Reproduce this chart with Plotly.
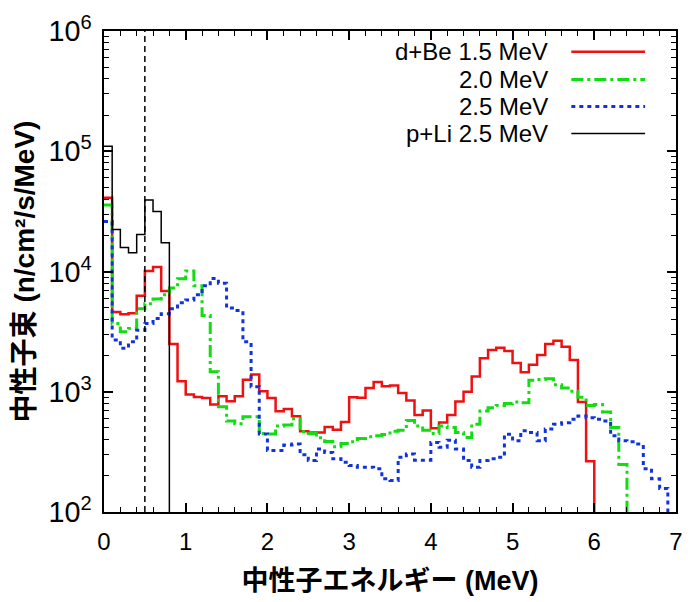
import plotly.graph_objects as go

# ---------------- data (bin width 0.1 MeV, starting at 0 MeV) ----------------
bin_width = 0.1

dbe_15 = [41000, 4600, 4400, 4500, 6300, 10100, 10900, 6900, 2500, 1220,
          948, 906, 889, 784, 918, 835, 918, 1260, 1390, 1010,
          889, 690, 720, 625, 470, 458, 458, 510, 482, 560,
          900, 890, 1074, 1205, 1110, 1125, 977, 846, 641, 700,
          498, 555, 640, 830, 1000, 1342, 1900, 2220, 2320, 2180,
          1730, 1450, 1680, 2020, 2500, 2650, 2370, 1840, 820, 264]

dbe_20 = [35800, 3690, 3150, 3350, 4900, 5400, 5900, 6400, 7300, 8700,
          10100, 7600, 4300, 1470, 750, 571, 543, 621, 621, 450,
          445, 520, 530, 595, 464, 450, 414, 385, 349, 372,
          384, 409, 422, 430, 440, 470, 479, 578, 520, 479,
          450, 520, 504, 458, 417, 537, 692, 736, 770, 800,
          820, 810, 1245, 1262, 1280, 1145, 1075, 1010, 900, 770,
          785, 678, 504, 248]

dbe_25 = [26000, 2700, 2300, 2600, 3250, 3700, 4060, 4450, 4900, 5500,
          5800, 6400, 7600, 8750, 8000, 4960, 4740, 2600, 1100, 445,
          324, 324, 360, 367, 300, 268, 334, 313, 277, 259,
          244, 236, 236, 229, 189, 183, 285, 304, 270, 270,
          379, 345, 396, 334, 268, 236, 268, 277, 285, 444,
          392, 473, 458, 392, 489, 537, 553, 590, 628, 608,
          590, 572, 430, 392, 384, 367, 229, 189, 157]

pli_25 = [110000, 22300, 15800, 14300, 20300, 39400, 31600, 17300]

marker_energy = 0.5          # dashed vertical reference line (MeV)
floor_value = 1.0            # below the axis range: closes each histogram
series_names = ["d+Be 1.5 MeV", "2.0 MeV", "2.5 MeV", "p+Li 2.5 MeV"]
series_values = [dbe_15, dbe_20, dbe_25, pli_25]
series_colors = ["#ee1111", "#11dd11", "#1133dd", "#000000"]
series_dash = ["solid", "12px,4px,3px,4px", "4px,4px", "solid"]
series_width = [2.5, 3, 3, 1.5]

x_ticks = [0, 1, 2, 3, 4, 5, 6, 7]
x_title = "中性子エネルギー (MeV)"
y_title = "中性子束 (n/cm²/s/MeV)"

LAT = "Liberation Sans, Arial, Noto Sans CJK JP, sans-serif"
TITLE_FONT = "Liberation Sans, Noto Sans CJK JP, sans-serif"


def step_xy(vals):
    n = len(vals)
    xs = [round(i * bin_width, 4) for i in range(n + 1)]
    ys = list(vals) + [floor_value]
    return xs, ys


fig = go.Figure()
for name, vals, col, dash, w in zip(series_names, series_values, series_colors,
                                    series_dash, series_width):
    xs, ys = step_xy(vals)
    fig.add_trace(go.Scatter(x=xs, y=ys, mode="lines", name=name,
                             line=dict(color=col, width=w, dash=dash, shape="hv"),
                             showlegend=False))

fig.add_vline(x=marker_energy, line=dict(color="black", width=1.5, dash="6px,4px"))

# legend: text right-aligned, line sample to the right
leg_y = [0.957, 0.899, 0.843, 0.787]
for name, col, dash, w, yy in zip(series_names, series_colors, series_dash,
                                  series_width, leg_y):
    fig.add_annotation(x=0.779, y=yy, xref="paper", yref="paper", text=name,
                       showarrow=False, xanchor="right", yanchor="middle",
                       font=dict(family=LAT, size=24, color="black"))
    fig.add_shape(type="line", xref="paper", yref="paper",
                  x0=0.817, x1=0.946, y0=yy, y1=yy,
                  line=dict(color=col, width=w, dash=dash))

fig.update_layout(
    width=694, height=602,
    margin=dict(l=104, r=11, t=31, b=85),
    plot_bgcolor="white", paper_bgcolor="white",
    font=dict(family=LAT, color="black"),
)

fig.update_xaxes(
    range=[0, 7], tickvals=x_ticks, ticks="inside", ticklen=9, tickwidth=1.5,
    tickcolor="black", showline=True, linecolor="black", linewidth=1.5,
    mirror="ticks", showgrid=False, zeroline=False,
    tickfont=dict(family=LAT, size=24),
    ticklabelstandoff=7,
    minor=dict(dtick=0.2, ticks="inside", ticklen=5, tickwidth=1.2,
               tickcolor="black", showgrid=False),
    title=dict(text=x_title, standoff=18,
               font=dict(family=TITLE_FONT, size=27, weight="bold")),
)

fig.update_yaxes(
    type="log", range=[2, 6], dtick=1, exponentformat="power",
    ticks="inside", ticklen=9, tickwidth=1.5, tickcolor="black",
    showline=True, linecolor="black", linewidth=1.5, mirror="ticks",
    showgrid=False, zeroline=False,
    tickfont=dict(family=LAT, size=23),
    ticklabelstandoff=6,
    minor=dict(dtick="D1", ticks="inside", ticklen=5, tickwidth=1.2,
               tickcolor="black", showgrid=False),
    title=dict(text=y_title, standoff=6,
               font=dict(family=TITLE_FONT, size=28, weight="bold")),
)

fig.write_html("out.html")
